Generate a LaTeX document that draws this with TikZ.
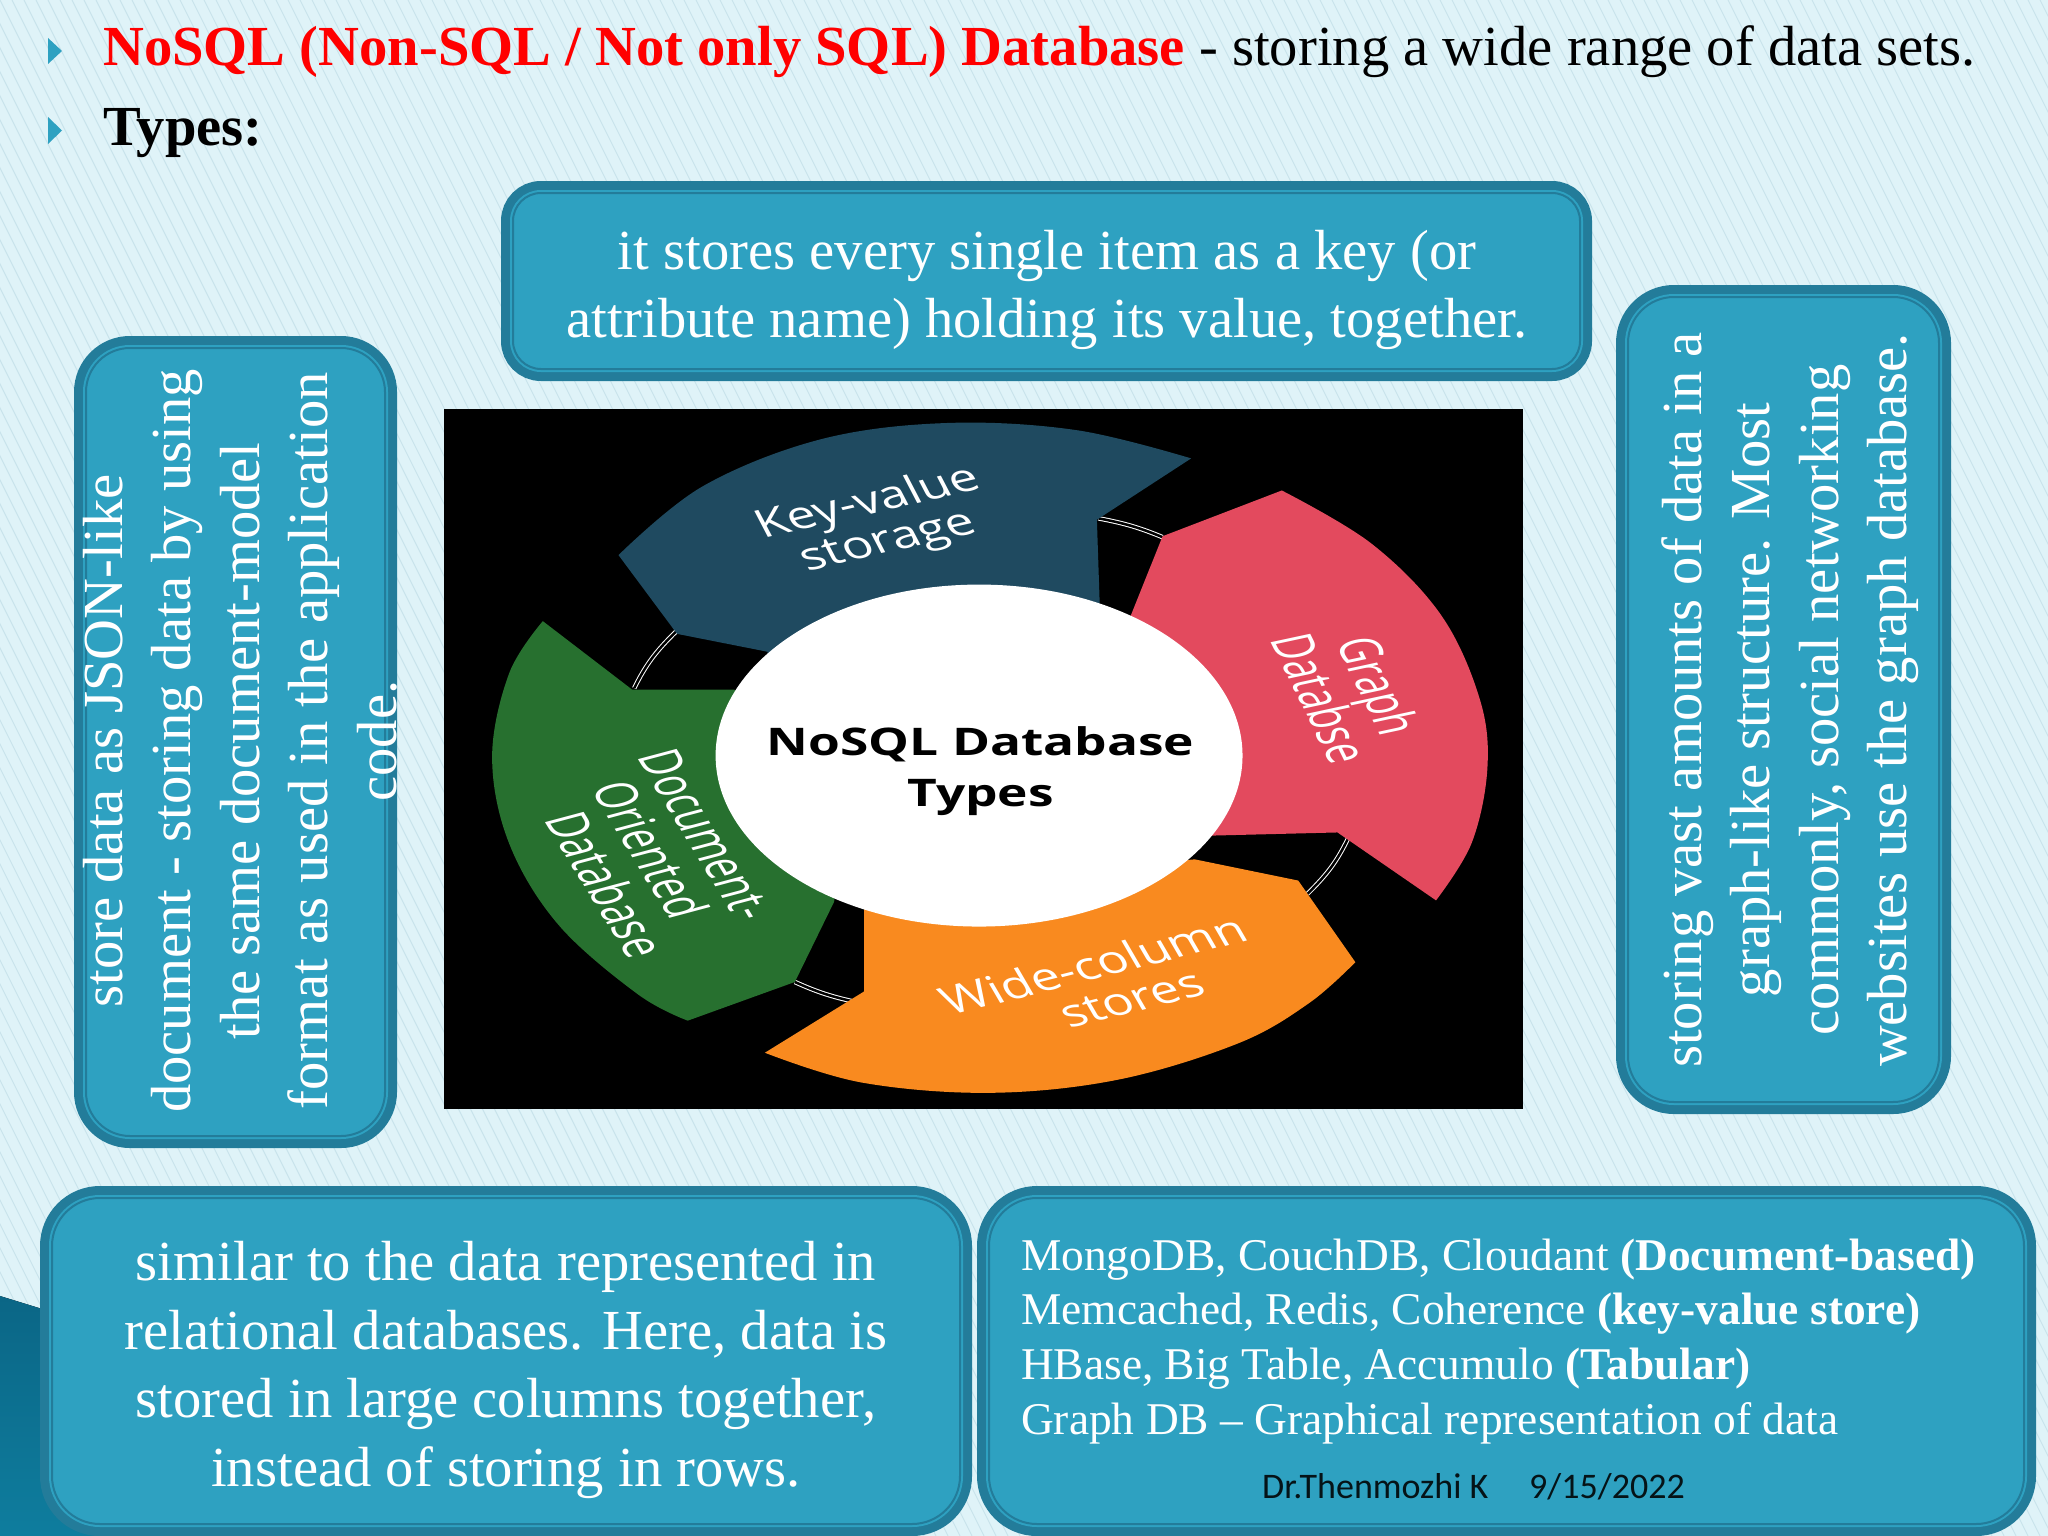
\documentclass[tikz,border=0pt]{standalone}
\usepackage{fontspec}
\setmainfont{Liberation Serif}
\newfontfamily\wheelfont{Open Sans}
\newfontfamily\footfont{Carlito}
\usetikzlibrary{shapes.geometric}
\definecolor{pagebg}{HTML}{DFF3F8}
\definecolor{hatchcol}{HTML}{C8E3EB}
\definecolor{boxfill}{HTML}{2EA1C1}
\definecolor{boxedge}{HTML}{237C9A}
\definecolor{cornertop}{HTML}{0B6686}
\definecolor{cornerlow}{HTML}{0E7D9E}
\definecolor{kvcol}{HTML}{1F4A60}
\definecolor{graphcol}{HTML}{E34A5E}
\definecolor{widecol}{HTML}{F98A1F}
\definecolor{doccol}{HTML}{27702F}
\tikzset{
  infobox/.style={rectangle,inner sep=0pt,fill=boxfill,draw=boxedge,line width=2pt,
    preaction={draw=boxedge,line width=24pt},preaction={draw=boxfill,line width=6pt}},
  boxtext/.style={inner sep=0pt,text=white,align=center,font=\fontsize{56.6}{68.5}\selectfont},
  headline/.style={anchor=base west,inner sep=0pt,font=\fontsize{56.6}{60}\selectfont},
  listline/.style={anchor=base west,inner sep=0pt,text=white,font=\fontsize{45.4}{50}\selectfont},
  footline/.style={anchor=base west,inner sep=0pt,text=black!85!boxedge,font=\footfont\fontsize{36}{40}\selectfont},
  wheeltext/.style={transform shape,yscale=1.12,inner sep=0pt,text=white,align=center,font=\wheelfont\fontsize{73}{76}\selectfont},
  ringline/.style={draw=white,double=black,line width=1pt,double distance=2.5pt},
}
\begin{document}
\begin{tikzpicture}[x=1pt,y=-1pt]
  \useasboundingbox (0,0) rectangle (2048,1536);
  \fill[pagebg] (0,0) rectangle (2048,1536);
  \foreach \i in {-768,-756,...,2048}
    \draw[hatchcol,line width=.9pt] (\i,0) -- ++(768,1536);
  \fill[top color=cornertop,bottom color=cornerlow] (0,1296) -- (39,1308) -- (140,1400) -- (140,1536) -- (0,1536) -- cycle;

  \fill[boxfill] (48,38) -- (62,51) -- (48,64) -- cycle;
  \fill[boxfill] (48,117) -- (62,130.5) -- (48,144) -- cycle;
  \node[headline] (title) at (103,66) {\textcolor{red}{\textbf{NoSQL (Non-SQL / Not only SQL) Database}} - storing a wide range of data sets.};
  \node[headline] (types) at (103,146) {\textbf{Types:}};

  \node[infobox,rounded corners=28pt,minimum width=1067pt,minimum height=176pt] (kvbox) at (1046.5,281) {};
  \node[boxtext] (kvtext) at (1047,290) {it stores every single item as a key (or\\attribute name) holding its value, together.};
  \node[infobox,rounded corners=44pt,rotate=90,minimum width=788pt,minimum height=299pt] (docbox) at (235.5,742) {};
  \node[boxtext,rotate=90] (doctext) at (240,741) {store data as JSON-like\\document - storing data by using\\the same document-model\\format as used in the application\\code.};
  \node[infobox,rounded corners=46pt,rotate=90,minimum width=805pt,minimum height=311pt] (graphbox) at (1783.5,699.5) {};
  \node[boxtext,rotate=90] (graphtext) at (1790,700) {storing vast amounts of data in a\\graph-like structure. Most\\commonly, social networking\\websites use the graph database.};
  \node[infobox,rounded corners=48pt,minimum width=908pt,minimum height=326pt] (widebox) at (506,1361) {};
  \node[boxtext] (widetext) at (506,1370) {similar to the data represented in\\relational databases. Here, data is\\stored in large columns together,\\instead of storing in rows.};
  \node[infobox,rounded corners=48pt,minimum width=1035pt,minimum height=326pt] (listbox) at (1506.5,1361) {};
  \node[listline] (list a) at (1021,1270) {MongoDB, CouchDB, Cloudant \textbf{(Document-based)}};
  \node[listline] (list b) at (1021,1324) {Memcached, Redis, Coherence \textbf{(key-value store)}};
  \node[listline] (list c) at (1021,1379) {HBase, Big Table, Accumulo \textbf{(Tabular)}};
  \node[listline] (list d) at (1021,1434) {Graph DB -- Graphical representation of data};
  \node[footline] (author) at (1262,1498) {Dr.Thenmozhi K};
  \node[footline] (date) at (1529,1498) {9/15/2022};

  \fill[black] (444,409) rectangle (1523,1109);
  \begin{scope}[shift={(420,390)},xscale=.714,yscale=.4717]
    \draw[ringline] (950,272) to[bend left=8] (1040,312);
    \draw[ringline] (300,632) to[bend left=8] (360,510);
    \draw[ringline] (1243,1068) to[bend right=8] (1300,950);
    \draw[ringline] (525,1255) to[bend right=8] (612,1298);
    \fill[kvcol] plot[smooth,tension=.6] coordinates {(278,350) (395,205) (560,105) (737,70) (919,85) (1080,145)} -- (948,275) -- (953,500) -- (487,600) -- (487,555) -- (360,517) -- cycle;
    \fill[graphcol] plot[smooth,tension=.6] coordinates {(1207,213) (1332,325) (1430,477) (1484,654) (1495,800) (1473,960) (1423,1082)} -- (1285,938) -- (1100,945) -- (995,480) -- (1040,310) -- cycle;
    \fill[widecol] plot[smooth,tension=.6] coordinates {(483,1405) (618,1468) (798,1490) (978,1462) (1146,1385) (1245,1300) (1310,1213)} -- (1230,1040) -- (1085,995) -- (622,1060) -- (622,1275) -- cycle;
    \fill[doccol] plot[smooth,tension=.6] coordinates {(172,490) (125,600) (101,778) (125,962) (194,1134) (305,1281) (375,1337)} -- (525,1255) -- (580,1085) -- (600,800) -- (440,635) -- (297,635) -- cycle;
    \node[ellipse,fill=white,inner sep=0pt,minimum width=738pt,minimum height=725pt,transform shape] (hub) at (783,775) {};
    \node[wheeltext,text=black,font=\wheelfont\bfseries\fontsize{72}{98}\selectfont] (hubtext) at (785,808) {NoSQL Database\\Types};
    \node[rotate=19,wheeltext] (kvlabel) at (642,282) {Key-value\\storage};
    \node[rotate=-72,wheeltext] (graphlabel) at (1303,640) {Graph\\Databse};
    \node[rotate=21,wheeltext] (widelabel) at (958,1257) {Wide-column\\\hspace*{48pt}stores};
    \node[rotate=-68,wheeltext] (doclabel) at (322,975) {Document-\\Oriented\\\hspace*{90pt}Database};
  \end{scope}
\end{tikzpicture}
\end{document}
